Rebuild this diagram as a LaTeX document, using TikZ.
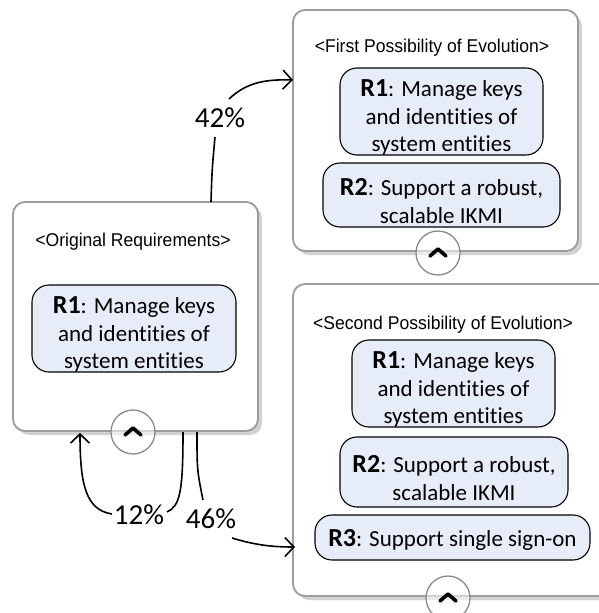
\documentclass[tikz,border=0pt]{standalone}
\usepackage{fontspec}
\setmainfont{Carlito}[Ligatures=NoCommon]
\newfontfamily\titlefont{Liberation Sans}
\usetikzlibrary{arrows.meta,shadows}
\definecolor{reqfill}{HTML}{E7EDF8}
\definecolor{framegray}{HTML}{9C9C9C}
\definecolor{shadowgray}{HTML}{D2D2D2}
\definecolor{btngray}{HTML}{8A8A8A}
\begin{document}
\begin{tikzpicture}[x=1pt,y=-1pt,
  outerbox/.style={draw=framegray, line width=1.8pt, fill=white, rounded corners=12pt,
    inner sep=0pt, drop shadow={shadow xshift=4pt, shadow yshift=-4pt, fill=shadowgray, opacity=1}},
  boxtitle/.style={font=\titlefont\fontsize{18.5}{21}\selectfont, inner sep=0pt},
  reqbox/.style={draw=black, line width=1.1pt, fill=reqfill, rounded corners=17pt, inner sep=0pt},
  reqtext/.style={align=center, inner sep=0pt, font=\fontsize{23}{27.5}\selectfont},
  togglebtn/.style={circle, draw=btngray, line width=1.3pt, fill=white, fill opacity=0.55,
    minimum size=44pt, inner sep=0pt},
  chev/.style={line width=3.6pt, line cap=round, line join=round},
  plainline/.style={line width=1.6pt},
  flow/.style={line width=1.6pt, -{Straight Barb[length=9pt,width=19pt]}},
  pct/.style={font=\fontsize{29}{30}\selectfont, inner sep=0pt}]
\useasboundingbox (0,0) rectangle (599,613);
\clip (0,0) rectangle (599,613);

\newcommand{\rid}[1]{{\fontsize{26}{27.5}\selectfont\bfseries #1}}
\newcommand{\narrowtitle}[1]{\scalebox{0.95}[1]{#1}}

% outer frames
\node[outerbox, minimum width=245pt, minimum height=229pt] (orig) at (135.5,316.5) {};
\node[outerbox, minimum width=285pt, minimum height=241pt] (first) at (435.5,130.5) {};
\node[outerbox, minimum width=347pt, minimum height=312pt] (second) at (466.5,440) {};

% titles
\node[boxtitle] (torig) at (133,242) {\narrowtitle{<Original Requirements>}};
\node[boxtitle] (tfirst) at (432,48) {\narrowtitle{<First Possibility of Evolution>}};
\node[boxtitle] (tsecond) at (443,325) {\narrowtitle{<Second Possibility of Evolution>}};

% requirement boxes
\node[reqbox, minimum width=204pt, minimum height=87pt] (o1) at (134,328.5) {};
\node[reqbox, minimum width=203pt, minimum height=87pt] (f1) at (441.5,111.5) {};
\node[reqbox, minimum width=237pt, minimum height=64pt] (f2) at (441.5,195) {};
\node[reqbox, minimum width=203pt, minimum height=87pt] (s1) at (453.5,383.5) {};
\node[reqbox, minimum width=228pt, minimum height=70pt] (s2) at (454,472) {};
\node[reqbox, minimum width=275pt, minimum height=45pt] (s3) at (452.5,537.5) {};

% requirement texts (set a little below the box centres)
\node[reqtext] (o1t) at ([yshift=-6pt]o1.center) {\rid{R1}: Manage keys\\and identities of\\system entities};
\node[reqtext] (f1t) at ([yshift=-6pt]f1.center) {\rid{R1}: Manage keys\\and identities of\\system entities};
\node[reqtext] (f2t) at ([yshift=-6pt]f2.center) {\rid{R2}: Support a robust,\\scalable IKMI};
\node[reqtext] (s1t) at ([yshift=-6pt]s1.center) {\rid{R1}: Manage keys\\and identities of\\system entities};
\node[reqtext] (s2t) at ([yshift=-6pt]s2.center) {\rid{R2}: Support a robust,\\scalable IKMI};
\node[reqtext] (s3t) at ([yshift=-2pt]s3.center) {\rid{R3}: Support single sign-on};

% collapse buttons
\foreach \b/\p in {borig/{(133,432)}, bfirst/{(438,253)}, bsecond/{(448,598)}} {
  \node[togglebtn] (\b) at \p {};
  \draw[chev] ([shift={(-8,3)}]\b.center) -- ([shift={(0,-4)}]\b.center) -- ([shift={(8,3)}]\b.center);
}

% transition labels
\node[pct] (l42) at (220,118) {42\%};
\node[pct] (l12) at (139,515) {12\%};
\node[pct] (l46) at (211,519) {46\%};

% transition end points
\coordinate (s42) at (211,202);
\coordinate (b42) at (215,137);
\coordinate (c42) at (229,99);
\coordinate (e42) at (293,80);

\coordinate (s12) at (183,432);
\coordinate (b12) at (167,512);
\coordinate (c12) at (112,514);
\coordinate (e12) at (80,433);

\coordinate (s46) at (197,432);
\coordinate (b46) at (203,500);
\coordinate (c46) at (232,538);
\coordinate (e46) at (295,547);

% transitions
\draw[plainline] (s42) .. controls (212,170) .. (b42);
\draw[flow] (c42) .. controls (245,84) and (262,79) .. (e42);

\draw[plainline] (s12) .. controls (183,492) and (180,506) .. (b12);
\draw[flow] (c12) .. controls (86,510) and (80,485) .. (e12);

\draw[plainline] (s46) .. controls (197,470) .. (b46);
\draw[flow] (c46) .. controls (255,545) and (272,547) .. (e46);
\end{tikzpicture}
\end{document}
